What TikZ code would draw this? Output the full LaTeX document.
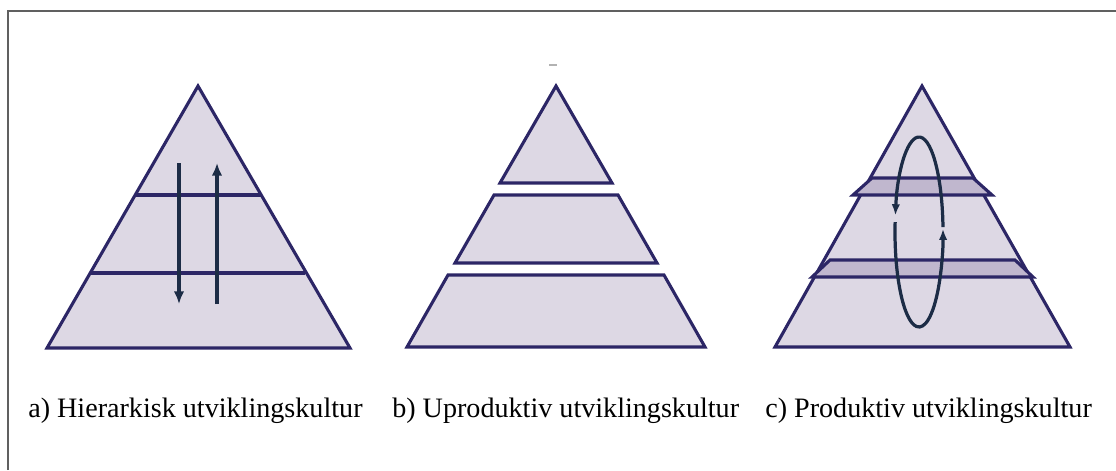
\documentclass[tikz,border=0pt]{standalone}
\usepackage{fontspec}
\setmainfont{Liberation Serif}
\usepackage{xcolor}
\definecolor{pyrfill}{RGB}{221,216,228}
\definecolor{bandfill}{RGB}{192,183,206}
\definecolor{pyrline}{RGB}{44,38,102}
\definecolor{flownavy}{RGB}{28,44,70}
\usepackage{tikz}
\usetikzlibrary{arrows.meta}

\begin{document}
\begin{tikzpicture}[x=0.025cm, y=-0.025cm]
    \fontsize{20}{24}\selectfont
    \useasboundingbox (0,0) rectangle (1116,470);
    \draw[color=gray!75!black, line width=1.4pt] (8,470) -- (8,11) -- (1116,11);
    % a) one pyramid, two levels cut across, flow straight up and down
    \filldraw[fill=pyrfill, draw=pyrline, line width=2.2pt] (198,86) -- (350,348) -- (47,348) -- cycle;
    \draw[color=pyrline, line width=2.2pt] (136,195) -- (261,195);
    \draw[color=pyrline, line width=2.2pt] (91,273) -- (305,273);
    \draw[color=flownavy, line width=3.4pt, -{Latex[length=9pt,width=7.5pt]}] (179,163) -- (179,304);
    \draw[color=flownavy, line width=3.4pt, -{Latex[length=9pt,width=7.5pt]}] (217,304) -- (217,163);
    % b) the same levels pulled apart
    \filldraw[fill=pyrfill, draw=pyrline, line width=2.2pt] (556,86) -- (612,183) -- (500,183) -- cycle;
    \filldraw[fill=pyrfill, draw=pyrline, line width=2.2pt] (494,195) -- (618,195) -- (657,263) -- (455,263) -- cycle;
    \filldraw[fill=pyrfill, draw=pyrline, line width=2.2pt] (448,275) -- (664,275) -- (705,347) -- (407,347) -- cycle;
    \draw[color=gray!60, line width=1.4pt] (549,65) -- (557,65);
    % c) overlapping bands and a loop through all levels
    \filldraw[fill=pyrfill, draw=pyrline, line width=2.2pt] (922,86) -- (1070,347) -- (775,347) -- cycle;
    \filldraw[fill=bandfill, draw=pyrline, line width=2.2pt] (872,178) -- (973,178) -- (992,195) -- (853,195) -- cycle;
    \filldraw[fill=bandfill, draw=pyrline, line width=2.2pt] (830,260) -- (1015,260) -- (1033,277) -- (812,277) -- cycle;
    \coordinate (loop) at (919,232);
    \draw[color=flownavy, line width=2.3pt, -{Latex[length=8pt,width=6pt]}] (loop) ++(357:24 and 95) arc[start angle=357, end angle=190, x radius=24, y radius=95];
    \draw[color=flownavy, line width=2.3pt, -{Latex[length=8pt,width=6pt]}] (loop) ++(186:24 and 95) arc[start angle=186, end angle=-2, x radius=24, y radius=95];
    % captions
    \node[anchor=base west, inner sep=0pt] (capA) at (28,417) {a) Hierarkisk utviklingskultur};
    \node[anchor=base west, inner sep=0pt] (capB) at (392,417) {b) Uproduktiv utviklingskultur};
    \node[anchor=base west, inner sep=0pt] (capC) at (765,417) {c) Produktiv utviklingskultur};
\end{tikzpicture}
\end{document}
